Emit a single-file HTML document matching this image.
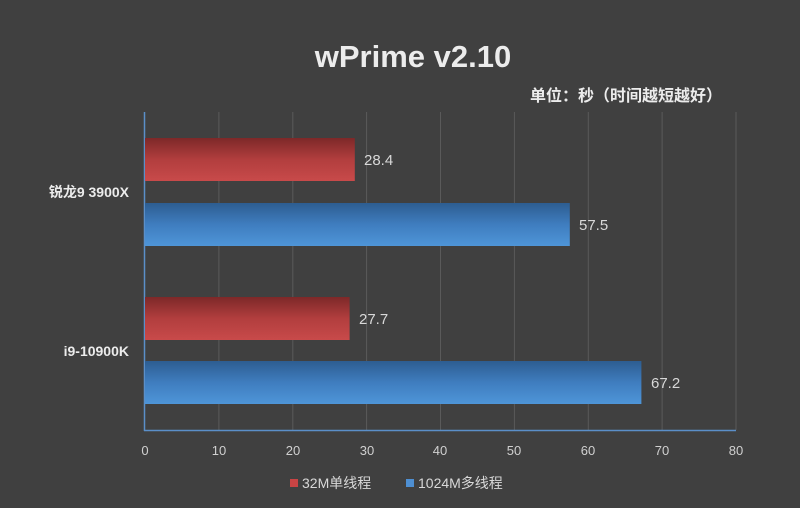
<!DOCTYPE html>
<html><head><meta charset="utf-8"><style>
html,body{margin:0;padding:0;background:#404040;}
svg{display:block;}
text{font-family:"Liberation Sans","Noto Sans CJK SC",sans-serif;}
</style></head><body>
<svg width="800" height="508" viewBox="0 0 800 508">
<defs>
<linearGradient id="r" x1="0" y1="0" x2="0" y2="1"><stop offset="0" stop-color="#7d2828"/><stop offset="0.5" stop-color="#b23e3e"/><stop offset="1" stop-color="#c84a4a"/></linearGradient>
<linearGradient id="b" x1="0" y1="0" x2="0" y2="1"><stop offset="0" stop-color="#2d5d91"/><stop offset="0.5" stop-color="#3f7dbf"/><stop offset="1" stop-color="#4e95d8"/></linearGradient>
</defs>
<rect width="800" height="508" fill="#404040"/>
<text x="413" y="67" text-anchor="middle" fill="#ececec" font-size="31" font-weight="bold">wPrime v2.10</text>
<text x="722" y="101" text-anchor="end" fill="#ececec" font-size="16" font-weight="bold">单位：秒（时间越短越好）</text>
<g stroke="#5a5a5a" stroke-width="1">
<line x1="218.9" y1="112" x2="218.9" y2="430"/><line x1="292.8" y1="112" x2="292.8" y2="430"/><line x1="366.6" y1="112" x2="366.6" y2="430"/><line x1="440.5" y1="112" x2="440.5" y2="430"/><line x1="514.4" y1="112" x2="514.4" y2="430"/><line x1="588.3" y1="112" x2="588.3" y2="430"/><line x1="662.1" y1="112" x2="662.1" y2="430"/><line x1="736" y1="112" x2="736" y2="430"/>
</g>
<line x1="144.5" y1="112" x2="144.5" y2="431" stroke="#5b8fc9" stroke-width="1.5"/>
<line x1="144" y1="430.5" x2="736" y2="430.5" stroke="#5b8fc9" stroke-width="1.5"/>
<rect x="145" y="138" width="209.8" height="43" fill="url(#r)"/>
<rect x="145" y="203" width="424.8" height="43" fill="url(#b)"/>
<rect x="145" y="297" width="204.6" height="43" fill="url(#r)"/>
<rect x="145" y="361" width="496.4" height="43" fill="url(#b)"/>
<g fill="#d8d8d8" font-size="15">
<text x="364" y="165">28.4</text><text x="579" y="230">57.5</text><text x="359" y="324">27.7</text><text x="651" y="388">67.2</text>
</g>
<g fill="#ececec" font-size="14" font-weight="bold" text-anchor="end">
<text x="129" y="197">锐龙9 3900X</text><text x="129" y="356">i9-10900K</text>
</g>
<g fill="#d0d0d0" font-size="13" text-anchor="middle">
<text x="145" y="455">0</text><text x="219" y="455">10</text><text x="293" y="455">20</text><text x="367" y="455">30</text><text x="440" y="455">40</text><text x="514" y="455">50</text><text x="588" y="455">60</text><text x="662" y="455">70</text><text x="736" y="455">80</text>
</g>
<rect x="290" y="479" width="8" height="8" fill="#c84444"/>
<text x="302" y="488" fill="#d8d8d8" font-size="14">32M单线程</text>
<rect x="406" y="479" width="8" height="8" fill="#4e8fd2"/>
<text x="418" y="488" fill="#d8d8d8" font-size="14">1024M多线程</text>
</svg>
</body></html>
